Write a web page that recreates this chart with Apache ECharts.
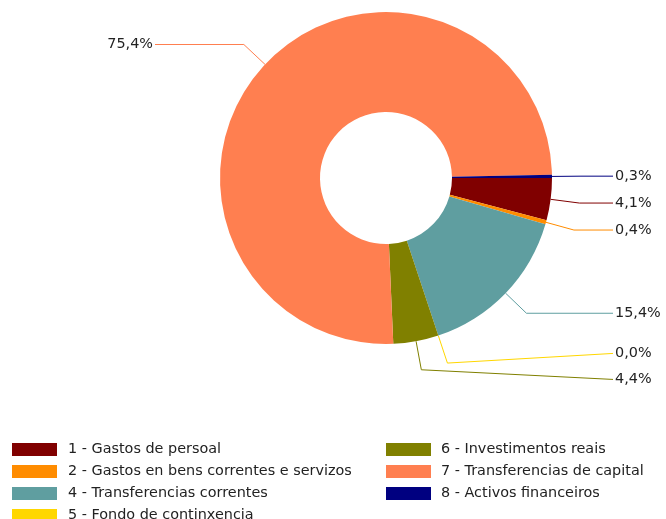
<!DOCTYPE html>
<html>
<head>
<meta charset="utf-8">
<script src="https://cdn.jsdelivr.net/npm/echarts@6/dist/echarts.min.js"></script>
<style>
html, body { margin: 0; padding: 0; background: #fff; }
#main { width: 666px; height: 519px; }
</style>
</head>
<body>
<div id="main"></div>
<script>
// datos
var categories = [
    '1 - Gastos de persoal',
    '2 - Gastos en bens correntes e servizos',
    '4 - Transferencias correntes',
    '5 - Fondo de continxencia',
    '6 - Investimentos reais',
    '7 - Transferencias de capital',
    '8 - Activos financeiros'
];
var shares = [4.1, 0.4, 15.4, 0.0, 4.4, 75.4, 0.3];
var colors = ['#800000', '#ff8c00', '#5f9ea0', '#ffd700', '#808000', '#ff7f50', '#000080'];
var legendLeft = categories.slice(0, 4);
var legendRight = categories.slice(4);

var FONT = 'DejaVu Sans';
var CX = 386, CY = 178, R_IN = 66, R_OUT = 166, BEND_R = 195, MIN_GAP = 26;

// punto de quebra de cada liña: no medio de cada sector, algo fóra do bordo
var total = shares.reduce(function (a, b) { return a + b; }, 0);
var acc = 0;
var bend = shares.map(function (v) {
    var mid = (acc + v / 2) / total * 2 * Math.PI;
    acc += v;
    return [CX + Math.cos(mid) * BEND_R, CY + Math.sin(mid) * BEND_R];
});

// separar as etiquetas da dereita que se pisan
var labelY = bend.map(function (p) { return p[1]; });
var rightIdx = bend.map(function (p, i) { return i; })
    .filter(function (i) { return bend[i][0] >= CX; })
    .sort(function (a, b) { return labelY[a] - labelY[b]; });
for (var k = 1; k < rightIdx.length; k++) {
    var a = rightIdx[k - 1], b = rightIdx[k];
    var gap = labelY[b] - labelY[a];
    if (gap < MIN_GAP) {
        var s = (MIN_GAP - gap) / 2;
        labelY[a] -= s;
        labelY[b] += s;
    }
}

function legendBox(names, left, textPad) {
    return {
        data: names,
        orient: 'vertical',
        left: left,
        top: 441.5,
        height: 100,
        padding: 0,
        itemWidth: 45,
        itemHeight: 13,
        itemGap: 6,
        icon: 'rect',
        selectedMode: false,
        textStyle: { fontFamily: FONT, fontSize: 14.4, color: '#222', lineHeight: 16, padding: [0, 0, 0, textPad] }
    };
}

var myChart = echarts.init(document.getElementById('main'));
myChart.setOption({
    backgroundColor: '#fff',
    animation: false,
    legend: [legendBox(legendLeft, 12, 6), legendBox(legendRight, 386, 5)],
    series: [{
        type: 'pie',
        center: [CX, CY],
        radius: [R_IN, R_OUT],
        startAngle: 0,
        clockwise: true,
        avoidLabelOverlap: false,
        silent: true,
        itemStyle: { borderWidth: 0 },
        data: categories.map(function (n, i) {
            return { name: n, value: shares[i], itemStyle: { color: colors[i] } };
        }),
        label: {
            show: true,
            position: 'outside',
            fontFamily: FONT,
            fontSize: 14.4,
            color: '#222',
            formatter: function (p) {
                return p.value.toFixed(1).replace('.', ',') + '%';
            }
        },
        labelLine: { show: true, length: 29, length2: 20, lineStyle: { width: 1 } },
        labelLayout: function (p) {
            var i = p.dataIndex;
            var start = p.labelLinePoints ? p.labelLinePoints[0] : bend[i];
            var right = bend[i][0] >= CX;
            var endX = right ? 613 : 155;
            return {
                x: right ? endX + 2 : endX - 2,
                y: labelY[i],
                align: right ? 'left' : 'right',
                verticalAlign: 'middle',
                labelLinePoints: [start, bend[i], [endX, labelY[i]]]
            };
        }
    }]
});
</script>
</body>
</html>
